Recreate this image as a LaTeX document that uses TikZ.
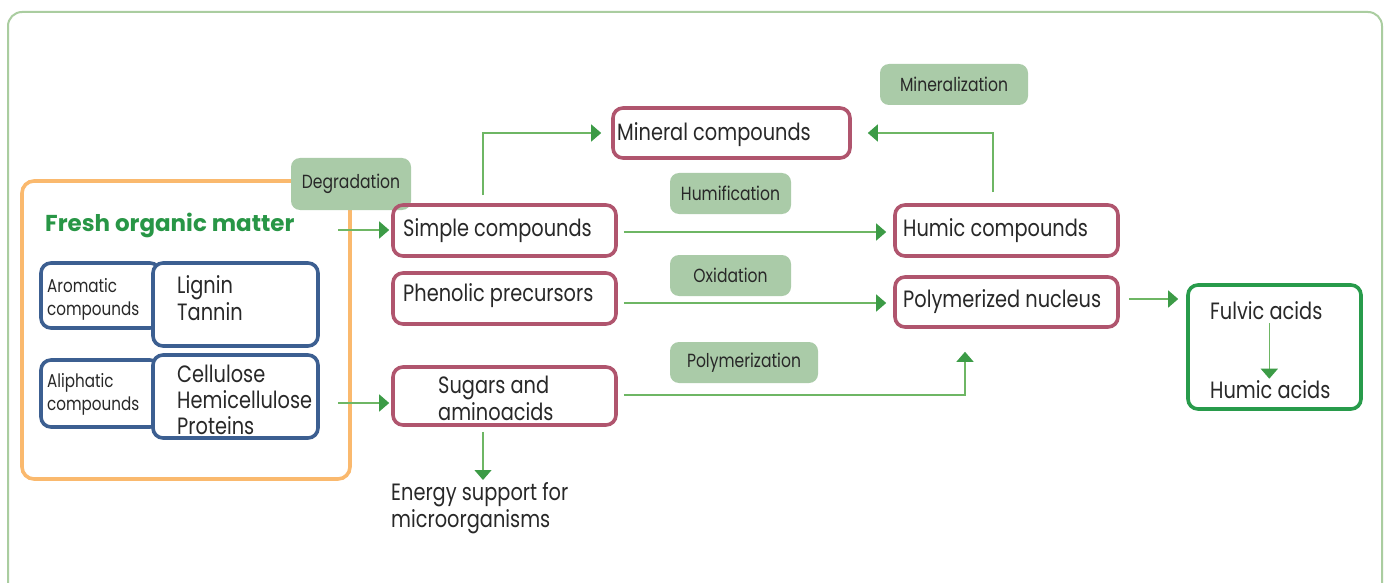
\documentclass[tikz,border=0pt]{standalone}
\usepackage{fontspec}
\setmainfont{Poppins}[FakeStretch=0.82]
\newfontfamily\titlefont{Poppins}
\usetikzlibrary{arrows.meta,positioning}
\definecolor{framegreen}{RGB}{170,205,160}
\definecolor{boxorange}{RGB}{250,185,110}
\definecolor{boxblue}{RGB}{60,95,145}
\definecolor{boxred}{RGB}{176,85,110}
\definecolor{acidgreen}{RGB}{40,155,75}
\definecolor{pillgreen}{RGB}{170,203,168}
\definecolor{titlegreen}{RGB}{40,150,70}
\definecolor{linegreen}{RGB}{110,182,100}
\definecolor{tipgreen}{RGB}{60,155,70}
\definecolor{ink}{RGB}{40,40,40}
\tikzset{
  organic/.style={rectangle, draw=boxorange, line width=3.6pt, rounded corners=12pt},
  classbox/.style={rectangle, draw=boxblue, line width=3.6pt, rounded corners=10pt, fill=white},
  compound/.style={rectangle, draw=boxred, line width=3.6pt, rounded corners=10pt},
  acidbox/.style={rectangle, draw=acidgreen, line width=3.6pt, rounded corners=10pt},
  process/.style={rectangle, fill=pillgreen, rounded corners=9pt, text=ink, font=\fontsize{19}{22}\selectfont},
  label/.style={text=ink, font=\fontsize{23.6}{27}\selectfont, align=left, inner sep=0pt},
  smalllabel/.style={text=ink, font=\fontsize{18.5}{23}\selectfont, align=left, inner sep=0pt},
  flow/.style={draw=linegreen, line width=1.3pt, -{Triangle[length=10pt,width=17pt,color=tipgreen]}}
}
\begin{document}
\begin{tikzpicture}[x=1pt, y=-1pt]
        \clip (0,0) rectangle (1387,583);
        \fill[white] (0,0) rectangle (1387,583);
        \draw[framegreen, line width=2pt, rounded corners=14pt] (8,12) rectangle (1382,610);

        % fresh organic matter
        \node[organic, minimum width=328pt, minimum height=298pt] at (186,330) (organic) {};
        \node[anchor=west, inner sep=0pt, text=titlegreen, font=\titlefont\fontsize{23}{26}\selectfont\bfseries] at (45,225) (fresh) {Fresh organic matter};
        \node[classbox, minimum width=119pt, minimum height=65pt] at (100.5,295.5) (aromaticbox) {};
        \node[classbox, minimum width=165pt, minimum height=83pt] at (235.5,304.5) (ligninbox) {};
        \node[classbox, minimum width=119pt, minimum height=67pt] at (100.5,393.5) (aliphaticbox) {};
        \node[classbox, minimum width=165pt, minimum height=83pt] at (235.5,396.5) (cellulosebox) {};
        \node[smalllabel, anchor=west] at (47,299) (aromatic) {Aromatic\\compounds};
        \node[smalllabel, anchor=west] at (47,394) (aliphatic) {Aliphatic\\compounds};
        \node[label, anchor=west] at (177,298) (lignin) {Lignin\\Tannin};
        \node[label, anchor=west, font=\fontsize{23.6}{26}\selectfont] at (177,400) (cellulose) {Cellulose\\Hemicellulose\\Proteins};
        \node[process, minimum width=120pt, minimum height=52pt] at (351,184) (degradation) {Degradation};

        % compounds
        \node[compound, minimum width=223pt, minimum height=51pt] at (504.5,230.5) (simple) {};
        \node[compound, minimum width=223pt, minimum height=51pt] at (504.5,298.5) (phenolic) {};
        \node[compound, minimum width=223pt, minimum height=58pt] at (504.5,396) (sugars) {};
        \node[compound, minimum width=237pt, minimum height=50pt] at (731.5,133) (mineral) {};
        \node[compound, minimum width=223pt, minimum height=51pt] at (1006.5,230.5) (humic) {};
        \node[compound, minimum width=223pt, minimum height=50pt] at (1006.5,302) (polymerized) {};
        \node[acidbox, minimum width=173pt, minimum height=124pt] at (1274.5,347) (acids) {};
        \node[label, anchor=west] at (403,231) {Simple compounds};
        \node[label, anchor=west] at (403,296) {Phenolic precursors};
        \node[label, anchor=west] at (438,398) {Sugars and\\aminoacids};
        \node[label, anchor=west] at (617,135) {Mineral compounds};
        \node[label, anchor=west] at (903,231) {Humic compounds};
        \node[label, anchor=west] at (903,302) {Polymerized nucleus};
        \node[label, anchor=west] at (1210,311) (fulvic) {Fulvic acids};
        \node[label, anchor=west] at (1210,390) (humicacids) {Humic acids};
        \node[label, anchor=north west] at (391,482) (energy) {Energy support for\\microorganisms};

        % processes
        \node[process, minimum width=148pt, minimum height=41pt] at (954,84.5) (mineralization) {Mineralization};
        \node[process, minimum width=121pt, minimum height=41pt] at (730.5,193.5) (humification) {Humification};
        \node[process, minimum width=121pt, minimum height=41pt] at (730.5,275.5) (oxidation) {Oxidation};
        \node[process, minimum width=148pt, minimum height=41pt] at (744,362.5) (polymerization) {Polymerization};

        \coordinate (outsimple) at (338,230);
        \coordinate (outsugars) at (338,403);

        \draw[flow, shorten >=2pt] (outsimple) -- (outsimple -| simple.west);
        \draw[flow, shorten >=2pt] (outsugars) -- (outsugars -| sugars.west);
        \draw[flow, shorten <=8pt, shorten >=10pt] ([xshift=-21.5pt]simple.north) |- (mineral.west);
        \draw[flow, shorten <=11pt, shorten >=16pt] ([xshift=-13.5pt]humic.north) |- (mineral.east);
        \draw[flow, shorten <=6pt, shorten >=7pt] ([yshift=-1.5pt]simple.east) -- ([yshift=-1.5pt]humic.west);
        \draw[flow, shorten <=6pt, shorten >=7pt] ([yshift=-4.5pt]phenolic.east) -- ([yshift=-1pt]polymerized.west);
        \draw[flow, shorten <=6pt, shorten >=23pt] ([yshift=1pt]sugars.east) -| ([xshift=-41.5pt]polymerized.south);
        \draw[flow, shorten <=9pt, shorten >=8pt] ([yshift=3pt]polymerized.east) -- ([yshift=3pt]polymerized.east -| acids.west);
        \draw[flow, shorten <=5pt, shorten >=2pt] ([xshift=-21.5pt]sugars.south) -- ([xshift=-21.5pt]sugars.south |- energy.north);
        \draw[flow, shorten <=3pt, shorten >=2pt] ([xshift=3pt]fulvic.south) -- ([xshift=3pt]fulvic.south |- humicacids.north);

\end{tikzpicture}
\end{document}
